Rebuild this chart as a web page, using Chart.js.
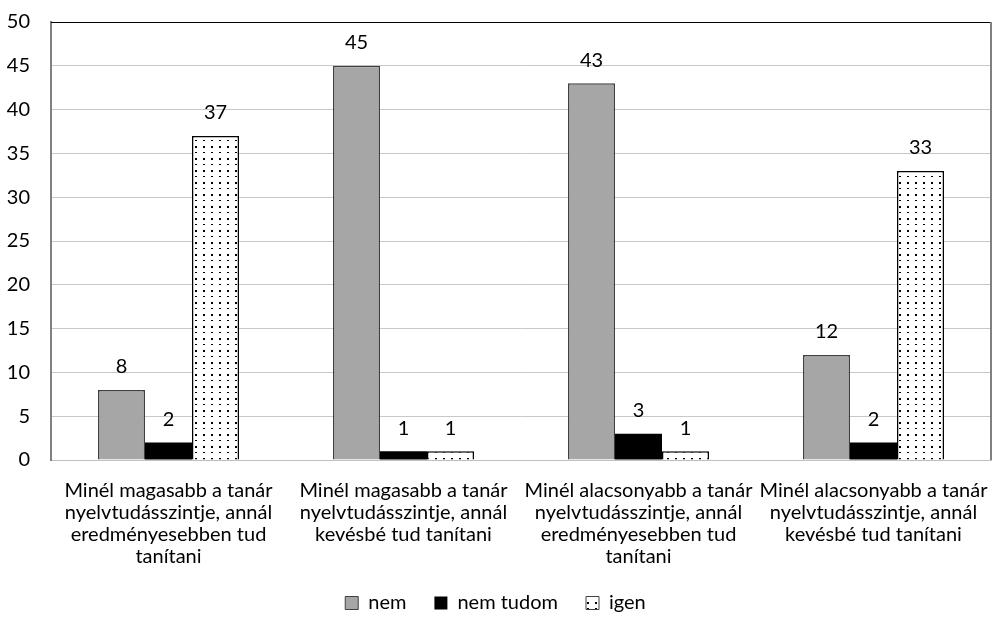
<!DOCTYPE html>
<html><head><meta charset="utf-8">
<script src="https://cdn.jsdelivr.net/npm/chart.js@4"></script>
<style>html,body{margin:0;padding:0;background:#fff}canvas{display:block}</style>
</head><body>
<canvas id="c" width="993" height="627"></canvas>
<script>
const categories = [
  ["Minél magasabb a tanár", "nyelvtudásszintje, annál", "eredményesebben tud", "tanítani"],
  ["Minél magasabb a tanár", "nyelvtudásszintje, annál", "kevésbé tud tanítani"],
  ["Minél alacsonyabb a tanár", "nyelvtudásszintje, annál", "eredményesebben tud", "tanítani"],
  ["Minél alacsonyabb a tanár", "nyelvtudásszintje, annál", "kevésbé tud tanítani"]
];
const seriesNames = ["nem", "nem tudom", "igen"];
const nemValues = [8, 45, 43, 12];
const nemTudomValues = [2, 1, 3, 2];
const igenValues = [37, 1, 1, 33];
const yTicks = [0, 5, 10, 15, 20, 25, 30, 35, 40, 45, 50];

const FONT = "Lato";
const FS = 20;

function makeDots() {
  const p = document.createElement('canvas');
  p.width = 8; p.height = 12;
  const g = p.getContext('2d');
  g.fillStyle = '#fff'; g.fillRect(0, 0, 8, 12);
  g.fillStyle = '#000';
  g.fillRect(3, 2, 2, 2);
  g.fillRect(3, 8, 2, 1);
  return g.createPattern(p, 'repeat');
}
const dots = makeDots();

const valueLabels = {
  id: 'valueLabels',
  afterDatasetsDraw(chart) {
    const ctx = chart.ctx;
    ctx.save();
    ctx.font = FS + 'px ' + FONT;
    ctx.fillStyle = '#000';
    ctx.textAlign = 'center';
    ctx.textBaseline = 'middle';
    chart.data.datasets.forEach((ds, i) => {
      chart.getDatasetMeta(i).data.forEach((bar, j) => {
        ctx.fillText(String(ds.data[j]), bar.x, bar.y - 23);
      });
    });
    ctx.restore();
  }
};
const frame = {
  id: 'frame',
  afterDraw(chart) {
    const a = chart.chartArea, ctx = chart.ctx;
    ctx.save();
    ctx.strokeStyle = '#000'; ctx.lineWidth = 1;
    ctx.beginPath(); ctx.moveTo(a.left, a.top + 0.5); ctx.lineTo(a.right, a.top + 0.5); ctx.stroke();
    ctx.strokeStyle = '#808080'; ctx.lineWidth = 2;
    ctx.beginPath(); ctx.moveTo(a.right, a.top); ctx.lineTo(a.right, a.bottom); ctx.stroke();
    ctx.restore();
  }
};

const GAP = '\u2002\u2002';

new Chart(document.getElementById('c'), {
  type: 'bar',
  data: {
    labels: categories,
    datasets: [
      { label: seriesNames[0], data: nemValues, backgroundColor: '#a6a6a6', borderColor: '#404040', borderWidth: 1.5 },
      { label: seriesNames[1], data: nemTudomValues, backgroundColor: '#000', borderColor: '#000', borderWidth: 0 },
      { label: seriesNames[2], data: igenValues, backgroundColor: dots, borderColor: '#000', borderWidth: 1.5 }
    ]
  },
  options: {
    responsive: false,
    animation: false,
    events: [],
    layout: { padding: { left: 0, right: 2, top: 22, bottom: 4 } },
    datasets: { bar: { categoryPercentage: 0.6, barPercentage: 1 } },
    plugins: {
      tooltip: { enabled: false },
      legend: {
        position: 'bottom',
        labels: { font: { family: FONT, size: FS }, color: '#000', boxWidth: 13, boxHeight: 13, padding: 8,
          generateLabels(chart) {
            const n = chart.data.datasets.length;
            return chart.data.datasets.map((ds, i) => ({
              text: ds.label + (i < n - 1 ? GAP : ''), fillStyle: ds.backgroundColor, strokeStyle: i === 1 ? '#000' : '#404040',
              lineWidth: i === 1 ? 0 : 1, datasetIndex: i, hidden: false, fontColor: '#000'
            }));
          }
        }
      }
    },
    scales: {
      x: {
        grid: { display: false, drawTicks: false },
        border: { color: '#c0c0c0', width: 1 },
        ticks: { font: { family: FONT, size: FS, lineHeight: 1.1 }, color: '#000', padding: 20, maxRotation: 0, autoSkip: false },
        afterFit(s) { s.height = 125; s.paddingLeft = 0; s.paddingRight = 0; }
      },
      y: {
        min: 0, max: 50,
        afterBuildTicks(s) { s.ticks = yTicks.map(v => ({ value: v })); },
        grid: { color: '#c8c8c8', lineWidth: 1, drawTicks: false },
        border: { color: '#808080', width: 2 },
        ticks: { font: { family: FONT, size: FS }, color: '#000', padding: 21 },
        afterFit(s) { s.width = 51; s.paddingTop = 0; s.paddingBottom = 0; }
      }
    }
  },
  plugins: [valueLabels, frame]
});
</script>
</body></html>
